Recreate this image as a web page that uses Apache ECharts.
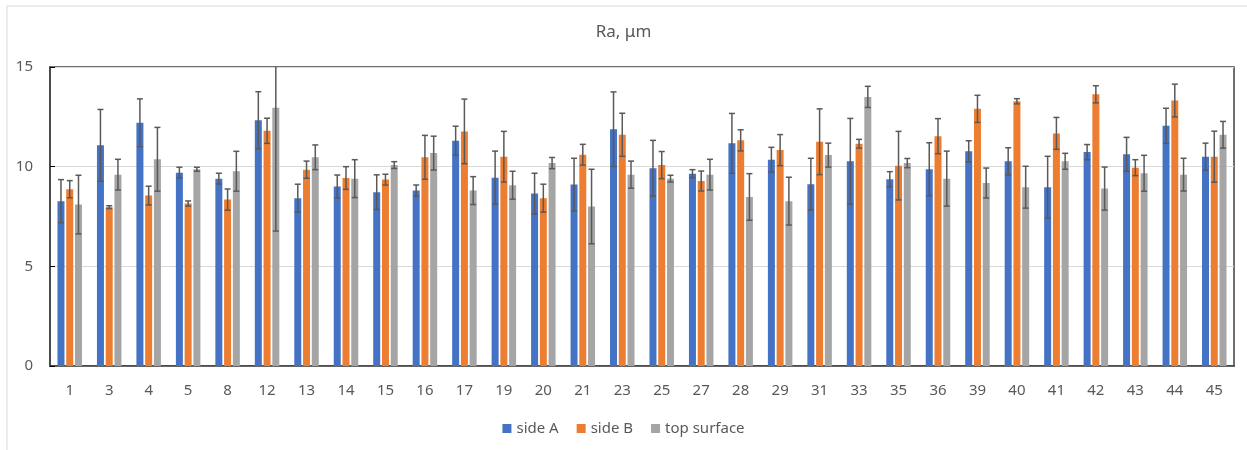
<!DOCTYPE html>
<html>
<head>
<meta charset="utf-8">
<script src="https://cdn.jsdelivr.net/npm/echarts@6/dist/echarts.min.js"></script>
<style>
  html, body { margin: 0; padding: 0; background: #fff; }
  #main { width: 1247px; height: 450px; }
</style>
</head>
<body>
<div id="main"></div>
<script>
const categories = ['1', '3', '4', '5', '8', '12', '13', '14', '15', '16', '17', '19', '20', '21', '23',
  '25', '27', '28', '29', '31', '33', '35', '36', '39', '40', '41', '42', '43', '44', '45'];

const sideA = [8.27, 11.07, 12.2, 9.7, 9.4, 12.33, 8.42, 9.0, 8.72, 8.8, 11.3, 9.45, 8.65, 9.1, 11.88,
  9.92, 9.65, 11.17, 10.35, 9.12, 10.27, 9.37, 9.87, 10.77, 10.27, 8.97, 10.73, 10.62, 12.05, 10.5];
const sideB = [8.87, 7.97, 8.55, 8.15, 8.35, 11.8, 9.85, 9.43, 9.35, 10.47, 11.77, 10.5, 8.42, 10.6, 11.6,
  10.08, 9.28, 11.32, 10.83, 11.25, 11.15, 10.05, 11.53, 12.9, 13.28, 11.67, 13.63, 9.95, 13.32, 10.5];
const topSurface = [8.1, 9.6, 10.37, 9.87, 9.77, 12.95, 10.47, 9.4, 10.08, 10.68, 8.8, 9.07, 10.18, 8.0, 9.6,
  9.4, 9.6, 8.48, 8.27, 10.58, 13.5, 10.18, 9.4, 9.18, 8.97, 10.27, 8.9, 9.67, 9.6, 11.6];

// error bar half-lengths (symmetric)
const errA = [1.08, 1.8, 1.2, 0.27, 0.27, 1.43, 0.7, 0.58, 0.87, 0.28, 0.73, 1.33, 1.02, 1.32, 1.87,
  1.4, 0.2, 1.5, 0.62, 1.3, 2.15, 0.38, 1.33, 0.53, 0.68, 1.55, 0.38, 0.85, 0.88, 0.68];
const errB = [0.43, 0.07, 0.47, 0.13, 0.53, 0.63, 0.43, 0.57, 0.27, 1.1, 1.62, 1.27, 0.7, 0.52, 1.08,
  0.68, 0.5, 0.53, 0.78, 1.65, 0.22, 1.72, 0.88, 0.68, 0.13, 0.8, 0.43, 0.4, 0.82, 1.28];
const errTop = [1.47, 0.77, 1.6, 0.1, 1.0, 6.18, 0.62, 0.95, 0.17, 0.85, 0.7, 0.7, 0.28, 1.87, 0.68,
  0.17, 0.77, 1.17, 1.2, 0.6, 0.53, 0.23, 1.38, 0.75, 1.05, 0.4, 1.08, 0.9, 0.82, 0.67];

const yTicks = [0, 5, 10, 15];

const BAR_W = 7;
const BAR_GAP = 0.25;
const textColor = '#595959';

function errData(vals, errs) {
  return vals.map((v, i) => [i, v - errs[i], v + errs[i]]);
}

function errSeries(name, vals, errs, slot) {
  return {
    type: 'custom',
    name: name,
    clip: true,
    silent: true,
    z: 5,
    encode: { x: 0, y: [1, 2] },
    data: errData(vals, errs),
    renderItem: function (params, api) {
      const lo = api.coord([api.value(0), api.value(1)]);
      const hi = api.coord([api.value(0), api.value(2)]);
      const x = lo[0] + slot * BAR_W * (1 + BAR_GAP);
      const cap = 3;
      const st = { stroke: '#595959', lineWidth: 1.5 };
      return {
        type: 'group',
        children: [
          { type: 'line', shape: { x1: x, y1: lo[1], x2: x, y2: hi[1] }, style: st },
          { type: 'line', shape: { x1: x - cap, y1: lo[1], x2: x + cap, y2: lo[1] }, style: st },
          { type: 'line', shape: { x1: x - cap, y1: hi[1], x2: x + cap, y2: hi[1] }, style: st }
        ]
      };
    }
  };
}

const chart = echarts.init(document.getElementById('main'));
chart.setOption({
  animation: false,
  textStyle: { fontFamily: 'Noto Sans' },
  title: {
    text: 'Ra, μm',
    left: 'center',
    top: 19,
    textStyle: { color: textColor, fontSize: 17, fontWeight: 'normal', fontFamily: 'Noto Sans' }
  },
  graphic: [{
    type: 'rect',
    shape: { x: 7, y: 6, width: 1260, height: 460 },
    style: { fill: 'none', stroke: '#d9d9d9', lineWidth: 1 },
    silent: true
  }],
  legend: {
    data: ['side A', 'side B', 'top surface'],
    left: 'center',
    top: 416,
    itemWidth: 9,
    itemHeight: 9,
    itemGap: 18,
    icon: 'rect',
    textStyle: { color: textColor, fontSize: 15 }
  },
  grid: {
    left: 50, right: 13, top: 67, bottom: 84,
    show: true,
    borderColor: '#404040',
    borderWidth: 1.5
  },
  xAxis: {
    type: 'category',
    data: categories,
    axisLine: { lineStyle: { color: '#404040', width: 1.5 } },
    axisTick: { show: false },
    axisLabel: { color: textColor, fontSize: 15, margin: 17 }
  },
  yAxis: {
    type: 'value',
    min: yTicks[0],
    max: yTicks[yTicks.length - 1],
    interval: yTicks[1] - yTicks[0],
    axisLine: { show: true, lineStyle: { color: '#404040', width: 1.5 } },
    axisTick: { show: true, inside: true, length: 5, lineStyle: { color: '#000' } },
    axisLabel: { color: textColor, fontSize: 15, margin: 17 },
    splitLine: { lineStyle: { color: '#d9d9d9', width: 1 } }
  },
  series: [
    { name: 'side A', type: 'bar', data: sideA, barWidth: BAR_W, barGap: (BAR_GAP * 100) + '%',
      itemStyle: { color: '#4472C4' } },
    { name: 'side B', type: 'bar', data: sideB, barWidth: BAR_W, barGap: (BAR_GAP * 100) + '%',
      itemStyle: { color: '#ED7D31' } },
    { name: 'top surface', type: 'bar', data: topSurface, barWidth: BAR_W, barGap: (BAR_GAP * 100) + '%',
      itemStyle: { color: '#A5A5A5' } },
    errSeries('errA', sideA, errA, -1),
    errSeries('errB', sideB, errB, 0),
    errSeries('errTop', topSurface, errTop, 1)
  ]
});
</script>
</body>
</html>
